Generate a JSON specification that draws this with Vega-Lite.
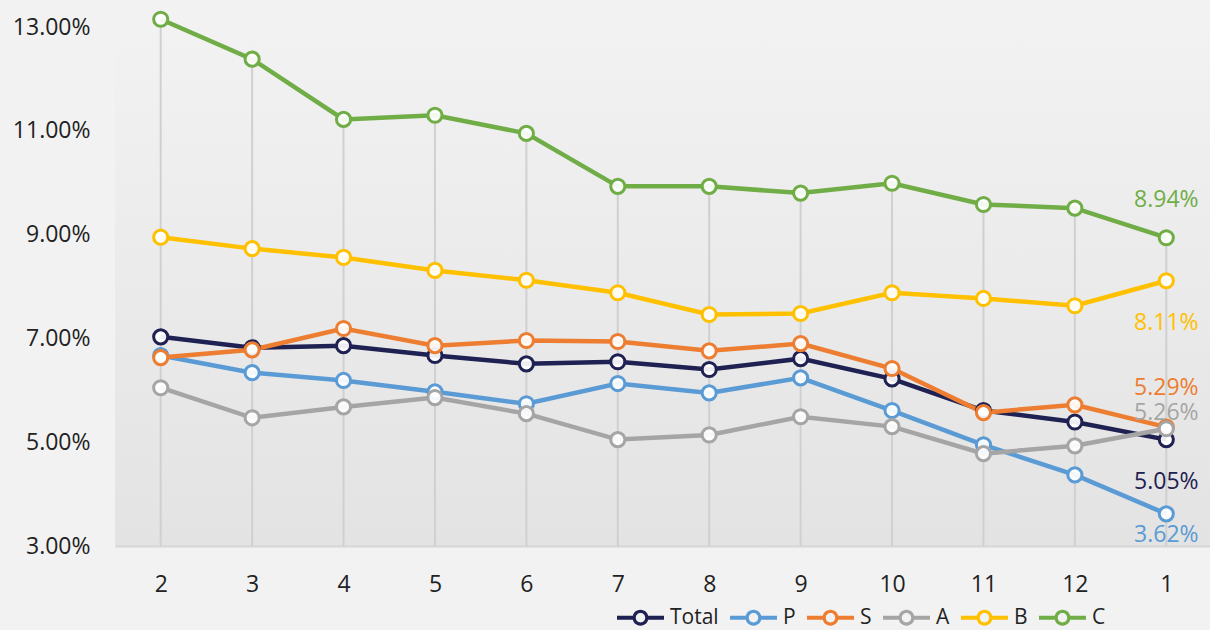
{
  "$schema": "https://vega.github.io/schema/vega-lite/v6.json",
  "width": 1097,
  "height": 519,
  "autosize": {"type": "none"},
  "padding": {"left": 115, "top": 27, "right": 0, "bottom": 84},
  "background": "#f2f2f2",
  "config": {
    "font": "Open Sans",
    "view": {
      "stroke": null,
      "fill": {
        "gradient": "linear",
        "x1": 0, "y1": 0, "x2": 0, "y2": 1,
        "stops": [
          {"offset": 0, "color": "#f2f2f2"},
          {"offset": 1, "color": "#e3e3e3"}
        ]
      }
    }
  },
  "data": {
    "values": [
      {"month": "2", "series": "Total", "value": 0.0703},
      {"month": "3", "series": "Total", "value": 0.0682},
      {"month": "4", "series": "Total", "value": 0.0686},
      {"month": "5", "series": "Total", "value": 0.0667},
      {"month": "6", "series": "Total", "value": 0.0651},
      {"month": "7", "series": "Total", "value": 0.0655},
      {"month": "8", "series": "Total", "value": 0.0640},
      {"month": "9", "series": "Total", "value": 0.0661},
      {"month": "10", "series": "Total", "value": 0.0622},
      {"month": "11", "series": "Total", "value": 0.0561},
      {"month": "12", "series": "Total", "value": 0.0539},
      {"month": "1", "series": "Total", "value": 0.0505},
      {"month": "2", "series": "P", "value": 0.0667},
      {"month": "3", "series": "P", "value": 0.0634},
      {"month": "4", "series": "P", "value": 0.0619},
      {"month": "5", "series": "P", "value": 0.0597},
      {"month": "6", "series": "P", "value": 0.0574},
      {"month": "7", "series": "P", "value": 0.0613},
      {"month": "8", "series": "P", "value": 0.0595},
      {"month": "9", "series": "P", "value": 0.0624},
      {"month": "10", "series": "P", "value": 0.0561},
      {"month": "11", "series": "P", "value": 0.0495},
      {"month": "12", "series": "P", "value": 0.0437},
      {"month": "1", "series": "P", "value": 0.0362},
      {"month": "2", "series": "S", "value": 0.0663},
      {"month": "3", "series": "S", "value": 0.0678},
      {"month": "4", "series": "S", "value": 0.0719},
      {"month": "5", "series": "S", "value": 0.0686},
      {"month": "6", "series": "S", "value": 0.0696},
      {"month": "7", "series": "S", "value": 0.0694},
      {"month": "8", "series": "S", "value": 0.0676},
      {"month": "9", "series": "S", "value": 0.0690},
      {"month": "10", "series": "S", "value": 0.0642},
      {"month": "11", "series": "S", "value": 0.0557},
      {"month": "12", "series": "S", "value": 0.0572},
      {"month": "1", "series": "S", "value": 0.0529},
      {"month": "2", "series": "A", "value": 0.0605},
      {"month": "3", "series": "A", "value": 0.0547},
      {"month": "4", "series": "A", "value": 0.0568},
      {"month": "5", "series": "A", "value": 0.0586},
      {"month": "6", "series": "A", "value": 0.0555},
      {"month": "7", "series": "A", "value": 0.0505},
      {"month": "8", "series": "A", "value": 0.0514},
      {"month": "9", "series": "A", "value": 0.0549},
      {"month": "10", "series": "A", "value": 0.0530},
      {"month": "11", "series": "A", "value": 0.0478},
      {"month": "12", "series": "A", "value": 0.0493},
      {"month": "1", "series": "A", "value": 0.0526},
      {"month": "2", "series": "B", "value": 0.0895},
      {"month": "3", "series": "B", "value": 0.0873},
      {"month": "4", "series": "B", "value": 0.0856},
      {"month": "5", "series": "B", "value": 0.0831},
      {"month": "6", "series": "B", "value": 0.0812},
      {"month": "7", "series": "B", "value": 0.0788},
      {"month": "8", "series": "B", "value": 0.0746},
      {"month": "9", "series": "B", "value": 0.0748},
      {"month": "10", "series": "B", "value": 0.0788},
      {"month": "11", "series": "B", "value": 0.0777},
      {"month": "12", "series": "B", "value": 0.0763},
      {"month": "1", "series": "B", "value": 0.0811},
      {"month": "2", "series": "C", "value": 0.1315},
      {"month": "3", "series": "C", "value": 0.1238},
      {"month": "4", "series": "C", "value": 0.1122},
      {"month": "5", "series": "C", "value": 0.1130},
      {"month": "6", "series": "C", "value": 0.1095},
      {"month": "7", "series": "C", "value": 0.0993},
      {"month": "8", "series": "C", "value": 0.0993},
      {"month": "9", "series": "C", "value": 0.0980},
      {"month": "10", "series": "C", "value": 0.0999},
      {"month": "11", "series": "C", "value": 0.0958},
      {"month": "12", "series": "C", "value": 0.0951},
      {"month": "1", "series": "C", "value": 0.0894}
    ]
  },
  "encoding": {
    "x": {
      "field": "month",
      "type": "ordinal",
      "sort": ["2", "3", "4", "5", "6", "7", "8", "9", "10", "11", "12", "1"],
      "scale": {"type": "point", "padding": 0.5},
      "axis": {
        "title": null,
        "labelAngle": 0,
        "labelFontSize": 23,
        "labelColor": "#222222",
        "labelPadding": 27,
        "ticks": false,
        "domain": true,
        "domainColor": "#d6d6d6",
        "domainWidth": 2,
        "grid": false
      }
    },
    "y": {
      "field": "value",
      "type": "quantitative",
      "scale": {"domain": [0.03, 0.13], "nice": false, "zero": false},
      "axis": {
        "title": null,
        "values": [0.03, 0.05, 0.07, 0.09, 0.11, 0.13],
        "format": ".2%",
        "labelFontSize": 23,
        "labelColor": "#222222",
        "labelPadding": 25,
        "ticks": false,
        "domain": false,
        "grid": false
      }
    }
  },
  "layer": [
    {
      "description": "Drop lines from the highest series down to the axis",
      "transform": [{"filter": "datum.series === 'C'"}],
      "mark": {"type": "rule", "color": "#d0d0d0", "strokeWidth": 2},
      "encoding": {
        "y2": {"datum": 0.03}
      }
    },
    {
      "mark": {"type": "line", "strokeWidth": 4.5},
      "encoding": {
        "stroke": {
          "field": "series",
          "type": "nominal",
          "sort": ["Total", "P", "S", "A", "B", "C"],
          "scale": {
            "domain": ["Total", "P", "S", "A", "B", "C"],
            "range": ["#1f2152", "#5b9bd5", "#ed7d31", "#a5a5a5", "#ffc000", "#70ad47"]
          },
          "legend": {
            "title": null,
            "orient": "none",
            "direction": "horizontal",
            "legendX": 502,
            "legendY": 567,
            "symbolType": "M-1,-0.085H-0.3V0.085H-1Z M0.3,-0.085H1V0.085H0.3Z M0.34,0A0.34,0.34 0 1,1 -0.34,0A0.34,0.34 0 1,1 0.34,0Z M0.2,0A0.2,0.2 0 1,0 -0.2,0A0.2,0.2 0 1,0 0.2,0Z",
            "symbolSize": 2209,
            "symbolStrokeWidth": 0,
            "symbolFillColor": "white",
            "labelFontSize": 21,
            "labelColor": "#222222",
            "labelOffset": 6,
            "columnPadding": 11
          }
        }
      }
    },
    {
      "mark": {"type": "point", "filled": false, "fill": "white", "fillOpacity": 0.92, "strokeWidth": 3, "size": 200, "opacity": 1},
      "encoding": {
        "stroke": {"field": "series", "type": "nominal", "legend": null}
      }
    },
    {
      "transform": [{"filter": "datum.month === '1'"}],
      "mark": {
        "type": "text",
        "fontSize": 23,
        "align": "center",
        "baseline": "middle",
        "yOffset": {"expr": "datum.series === 'C' ? -38 : datum.series === 'B' ? 42 : datum.series === 'S' ? -39 : datum.series === 'A' ? -16 : datum.series === 'Total' ? 42 : 21"}
      },
      "encoding": {
        "text": {"field": "value", "type": "quantitative", "format": ".2%"},
        "color": {
          "field": "series",
          "type": "nominal",
          "scale": {
            "domain": ["Total", "P", "S", "A", "B", "C"],
            "range": ["#1f2152", "#5b9bd5", "#ed7d31", "#a5a5a5", "#ffc000", "#70ad47"]
          },
          "legend": null
        }
      }
    }
  ]
}
